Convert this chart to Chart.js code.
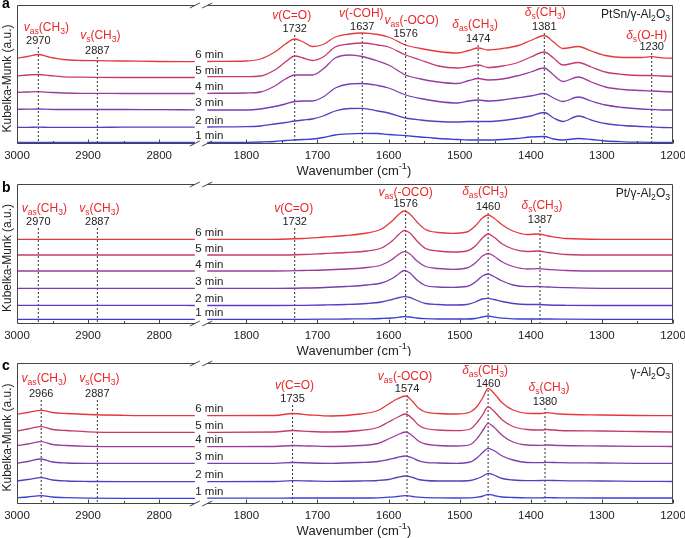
<!DOCTYPE html>
<html><head><meta charset="utf-8">
<script src="https://cdn.jsdelivr.net/npm/chart.js@4.4.0/dist/chart.umd.min.js"></script>
<style>
html,body{margin:0;padding:0;background:#fff;}
#wrap{position:relative;width:685px;height:538px;overflow:hidden;}
canvas{position:absolute;left:0;}
</style></head><body>
<div id="wrap">
<canvas id="ca" width="685" height="178" style="top:0px"></canvas>
<canvas id="cb" width="685" height="178" style="top:178px"></canvas>
<canvas id="cc" width="685" height="182" style="top:356px"></canvas>
</div>
<script>
// ---------- shared ----------
const timeLabels = ['1 min','2 min','3 min','4 min','5 min','6 min'];
const majorWn = [3000, 2900, 2800, 1800, 1700, 1600, 1500, 1400, 1300, 1200];
const minorWn = [2950, 2850, 1750, 1650, 1550, 1450, 1350, 1250];

// ---------- panel a : PtSn/γ-Al2O3 ----------
const aLeftWn = [3000, 2985, 2970, 2955, 2935, 2910, 2887, 2850, 2800, 2750];
const aRightWn = [1855, 1800, 1780, 1760, 1745, 1732, 1720, 1707, 1692, 1675, 1655, 1637, 1615, 1600, 1576, 1555, 1530, 1503, 1487, 1474, 1460, 1440, 1420, 1400, 1381, 1368, 1355, 1333, 1315, 1295, 1270, 1245, 1230, 1215, 1200];
const aLeft1 = [1.5, 1.5, 1.6, 1.5, 1.5, 1.5, 1.5, 1.5, 1.5, 1.5];
const aLeft2 = [16.7, 16.7, 16.8, 16.7, 16.7, 16.7, 16.7, 16.8, 16.8, 16.8];
const aLeft3 = [34.7, 34.8, 35, 34.7, 34.5, 34.5, 34.5, 34.5, 34.3, 34.2];
const aLeft4 = [51.7, 52, 52.3, 51.7, 51, 50.7, 50.7, 50.5, 50.5, 50.5];
const aLeft5 = [68, 69, 69.5, 68.5, 67.2, 66.8, 66.6, 66.5, 66.5, 66.5];
const aLeft6 = [85.7, 87.5, 89.5, 87, 84.5, 83.5, 83.3, 83, 82.5, 82.3];
const aRight1 = [1.5, 1.7, 2, 2.5, 3.5, 4, 4.5, 5, 6.5, 9, 10.2, 10.7, 10.5, 9.5, 8.3, 7, 5.5, 4.5, 4, 4, 4, 4.5, 5.5, 7, 7.5, 5, 4, 5.5, 4.5, 3, 2.2, 1.8, 1.7, 1.7, 1.7];
const aRight2 = [17, 17.3, 18, 20, 21.5, 23, 24, 25, 28, 33, 35.5, 35.7, 33, 31, 26, 24, 22.5, 22, 22.5, 22.5, 22.5, 23.5, 25.5, 28, 31.5, 26, 22.5, 28, 24, 20.5, 18.5, 17.5, 17, 16.5, 16.3];
const aRight3 = [34, 34, 35, 37.5, 40, 42.5, 43, 43, 47, 56, 60, 60.5, 58.5, 56, 49, 45.5, 42.5, 41, 43, 44, 43, 44, 46, 48, 50.5, 46, 42.5, 47, 43, 39, 36.5, 35, 34.5, 34, 34];
const aRight4 = [50.7, 51, 52, 58, 65, 69, 69, 69, 75, 86, 89, 87.5, 83, 79, 69, 65, 62, 60.5, 63.5, 65.5, 64, 65, 68, 72, 76, 69, 62.5, 67, 62, 57, 54.5, 53.5, 53, 52.5, 52];
const aRight5 = [67.3, 67.3, 68, 74, 82, 88, 86, 83.5, 87, 97, 100, 101, 99, 97, 89, 84, 78, 76, 77.5, 79, 76.5, 78, 81, 87, 92, 86, 79, 81.5, 77, 72, 69.5, 68.5, 68.5, 68, 67.5];
const aRight6 = [82.5, 83, 85, 92, 100, 105, 102, 97.5, 99.5, 107, 110, 111, 109.5, 107, 99, 95.5, 92.5, 91, 93.5, 96, 94, 95.5, 98, 103.5, 108.5, 102, 95.5, 97.5, 93, 88.5, 86.5, 86.5, 87.3, 86.2, 85.7];
const aPeakWn = [2970, 2887, 1732, 1637, 1576, 1474, 1381, 1230];
const aPeakTop = [97, 87, 109, 111, 104, 99, 111, 91];
const aPeakLabel = ['*v*_as_(CH_3_)', '*v*_s_(CH_3_)', '*v*(C=O)', '*v*(-COH)', '*v*_as_(-OCO)', '*δ*_as_(CH_3_)', '*δ*_s_(CH_3_)', '*δ*_s_(O-H)'];

// ---------- panel b : Pt/γ-Al2O3 ----------
const bLeftWn = [3000, 2950, 2900, 2850, 2800, 2750];
const bRightWn = [1855, 1760, 1720, 1690, 1660, 1630, 1610, 1595, 1585, 1578, 1570, 1560, 1548, 1530, 1510, 1490, 1478, 1468, 1460, 1452, 1440, 1425, 1405, 1390, 1375, 1350, 1300, 1200];
const bLeft1 = [4.7, 4.7, 4.7, 4.7, 4.7, 4.7];
const bLeft2 = [18.7, 18.7, 18.7, 18.6, 18.6, 18.5];
const bLeft3 = [35.7, 35.7, 35.7, 35.7, 35.7, 35.7];
const bLeft4 = [53, 53, 53, 53, 53, 53];
const bLeft5 = [69, 69, 69, 69, 69, 69];
const bLeft6 = [84.7, 84.7, 84.7, 84.7, 84.7, 84.7];
const bRight1 = [4.7, 4.7, 4.7, 4.8, 5, 5.2, 5.5, 6, 6.8, 7.3, 7, 6, 5.3, 5, 5, 5, 5.5, 7, 8, 7, 5.8, 5.2, 5, 5, 5, 4.8, 4.7, 4.7];
const bRight2 = [18.5, 18.5, 18.7, 19, 19.5, 20.5, 22, 24.5, 26.5, 27.3, 26.5, 23.5, 20.5, 19.5, 19, 19.5, 22, 25, 25.7, 24.5, 22.5, 20.5, 19.5, 19.5, 19, 18.7, 18.5, 18.5];
const bRight3 = [35.7, 35.7, 36, 36.5, 37.5, 39, 41, 45.5, 50.5, 53.5, 51, 44, 38.5, 37, 36.7, 37.5, 42, 48, 50, 47.5, 43, 39, 37.3, 37.5, 37, 36.3, 35.7, 35.7];
const bRight4 = [53, 53, 53.5, 54, 55, 56.5, 59, 64.5, 70, 72.3, 70, 63, 57.5, 55.5, 54.7, 56, 61, 68, 70.7, 68, 62, 57.5, 55, 55.3, 54.5, 53.5, 53, 53];
const bRight5 = [69, 69, 69.5, 70.5, 71.5, 73, 76, 83, 90, 93.5, 91, 83, 75.5, 73, 72, 73, 78, 86, 90, 87, 80, 75, 72.5, 73, 71.5, 69.5, 69, 69];
const bRight6 = [84.7, 84.7, 85.5, 87, 88.5, 91, 95, 103, 110, 113, 110, 102, 94.5, 91.5, 90.7, 92, 98, 106, 109, 106, 99, 93, 89.5, 90, 88, 85.5, 84.7, 84.7];
const bPeakWn = [2970, 2887, 1732, 1576, 1460, 1387];
const bPeakTop = [96, 96, 96, 114, 111, 98];
const bPeakLabel = ['*v*_as_(CH_3_)', '*v*_s_(CH_3_)', '*v*(C=O)', '*v*_as_(-OCO)', '*δ*_as_(CH_3_)', '*δ*_s_(CH_3_)'];

// ---------- panel c : γ-Al2O3 ----------
const cLeftWn = [3000, 2985, 2966, 2950, 2930, 2900, 2850, 2800, 2750];
const cRightWn = [1855, 1760, 1735, 1710, 1680, 1640, 1615, 1600, 1588, 1576, 1566, 1558, 1548, 1530, 1505, 1485, 1475, 1467, 1460, 1452, 1440, 1425, 1405, 1385, 1378, 1360, 1300, 1250, 1200];
const cLeft1 = [6.3, 7, 8.3, 7, 6.3, 5.8, 5.7, 5.7, 5.7];
const cLeft2 = [23, 24.5, 26.3, 24, 23, 22.5, 22.3, 22.3, 22.3];
const cLeft3 = [40.7, 42.5, 45, 42, 41, 40.7, 40.7, 40.7, 40.7];
const cLeft4 = [58.3, 60, 62.3, 59.5, 58.5, 57.7, 57.3, 57.3, 57.3];
const cLeft5 = [73, 75, 77.3, 74.5, 73.5, 72.2, 71.7, 71.7, 71.7];
const cLeft6 = [89.7, 91.5, 93.7, 91.5, 90.5, 89.5, 88.7, 88.3, 88.3];
const cRight1 = [5.8, 5.8, 6, 6, 6, 6, 6.2, 6.8, 7.5, 8.3, 7.5, 6.8, 6.3, 6.1, 6, 6.1, 6.8, 8, 9.7, 8.5, 7, 6.5, 6.2, 6.2, 6.3, 6.2, 6, 6, 6];
const cRight2 = [22.3, 22.5, 23.3, 23, 22.7, 23, 23.5, 24.5, 26.5, 28, 26.5, 24.5, 23.5, 23, 23, 23.5, 25.5, 28, 30.7, 29, 25.5, 24, 23.3, 23.5, 23.7, 23.3, 23, 22.7, 22.5];
const cRight3 = [40.7, 40.7, 41.5, 41, 40.7, 41.5, 42.5, 44.5, 46.5, 48, 46, 43.3, 41.7, 41, 40.7, 42, 46.5, 52, 55.7, 53.5, 48, 44, 41.5, 41.3, 41.7, 41.3, 41, 40.7, 40.7];
const cRight4 = [57.3, 57.5, 58.5, 58, 57.5, 58.5, 60.5, 65, 69, 72, 68, 63, 60, 58.5, 58, 59.5, 66, 74, 80.7, 77, 68.5, 62, 59, 58.7, 59, 58.5, 58, 57.7, 57.5];
const cRight5 = [71.7, 72, 73.5, 72.5, 72, 73.5, 76.5, 82, 86.5, 90, 85, 79, 75.5, 74, 73.3, 75, 82, 90, 97.3, 93, 84, 77.5, 74.5, 74, 74.5, 73.5, 73, 72.5, 72];
const cRight6 = [88.3, 88.5, 90.5, 89, 88, 90, 93.5, 100, 105, 108, 102.5, 96, 92, 90.5, 90, 92, 98, 107, 115.7, 111, 101, 94, 90.7, 90.5, 91.3, 90, 89, 88.5, 88.3];
const cPeakWn = [2966, 2887, 1735, 1574, 1460, 1380];
const cPeakTop = [104, 104, 99, 109, 114, 96];
const cPeakLabel = ['*v*_as_(CH_3_)', '*v*_s_(CH_3_)', '*v*(C=O)', '*v*_as_(-OCO)', '*δ*_as_(CH_3_)', '*δ*_s_(CH_3_)'];

// ---------- styles / layout ----------
const FONT = '"Liberation Sans", Arial, Helvetica, sans-serif';
const seriesColors = ['#3d3fd4', '#5a3cc2', '#7a3cb0', '#9c3c9a', '#c43a6c', '#e4393b'];
const RED = '#e8282b', INK = '#222', FRAME = '#444';

// broken-axis mapping: wavenumber -> position on a continuous linear scale
const BREAK_HI = 2750, BREAK_LO = 1855, GAP = 17.5;
function uOf(w){ return w >= BREAK_HI ? 3000 - w : (3000 - BREAK_HI) + GAP + (BREAK_LO - w); }
function wOf(u){ return u <= 3000 - BREAK_HI ? 3000 - u : BREAK_LO - (u - (3000 - BREAK_HI) - GAP); }
const U_MAX = uOf(1200);

const panels = [
  {id:'ca', letter:'a', letterY:8, sample:'PtSn/γ-Al_2_O_3_', padTop:5, axisH:34, yMax:139,
   leftWn:aLeftWn, rightWn:aRightWn, left:[aLeft1,aLeft2,aLeft3,aLeft4,aLeft5,aLeft6], right:[aRight1,aRight2,aRight3,aRight4,aRight5,aRight6],
   peakWn:aPeakWn, peakTop:aPeakTop, peakLabel:aPeakLabel, redDx:[8,3,-3,-1,6,-3,1,-5], redDy:[13,15,13,13,13,14,14,11]},
  {id:'cb', letter:'b', letterY:14, sample:'Pt/γ-Al_2_O_3_', padTop:6, axisH:32, yMax:140,
   leftWn:bLeftWn, rightWn:bRightWn, left:[bLeft1,bLeft2,bLeft3,bLeft4,bLeft5,bLeft6], right:[bRight1,bRight2,bRight3,bRight4,bRight5,bRight6],
   peakWn:bPeakWn, peakTop:bPeakTop, peakLabel:bPeakLabel, redDx:[6,2,-1,0,-3,2], redDy:[13,13,13,11,15,14]},
  {id:'cc', letter:'c', letterY:14, sample:'γ-Al_2_O_3_', padTop:7, axisH:34, yMax:141,
   leftWn:cLeftWn, rightWn:cRightWn, left:[cLeft1,cLeft2,cLeft3,cLeft4,cLeft5,cLeft6], right:[cRight1,cRight2,cRight3,cRight4,cRight5,cRight6],
   peakWn:cPeakWn, peakTop:cPeakTop, peakLabel:cPeakLabel, redDx:[3,2,2,-2,-3,4], redDy:[15,15,13,12,13,14]}
];

function drawRich(ctx, spec, x, y, align, size, color, weight){
  const toks = spec.split(/(\*[^*]+\*|_[^_]+_|\^[^^]+\^)/).filter(t => t);
  const w0 = weight ? weight + ' ' : '';
  const segs = toks.map(t => {
    if (t[0] === '*') return {t:t.slice(1,-1), f:'italic ' + w0 + size + 'px ' + FONT, dy:0};
    if (t[0] === '_') return {t:t.slice(1,-1), f:w0 + (size*0.72).toFixed(1) + 'px ' + FONT, dy:size*0.32};
    if (t[0] === '^') return {t:t.slice(1,-1), f:w0 + (size*0.72).toFixed(1) + 'px ' + FONT, dy:-size*0.32};
    return {t:t, f:w0 + size + 'px ' + FONT, dy:0};
  });
  let total = 0;
  segs.forEach(s => { ctx.font = s.f; s.w = ctx.measureText(s.t).width; total += s.w; });
  let cx = align === 'center' ? x - total/2 : align === 'right' ? x - total : x;
  ctx.fillStyle = color; ctx.textBaseline = 'middle'; ctx.textAlign = 'left';
  segs.forEach(s => { ctx.font = s.f; ctx.fillText(s.t, cx, y + s.dy); cx += s.w; });
}

function decor(p){
  return {
    id:'decor_' + p.letter,
    afterDatasetsDraw(chart){
      const {ctx, chartArea:ca, scales} = chart;
      const xs = scales.x, ys = scales.y;
      ctx.save();
      // frame with break
      const L = Math.round(ca.left) + 0.5, R = Math.round(ca.right) - 0.5;
      const T = Math.round(ca.top) + 0.5, B = Math.round(ca.bottom) - 0.5;
      const b1 = xs.getPixelForValue(3000 - BREAK_HI), b2 = xs.getPixelForValue(3000 - BREAK_HI + GAP);
      ctx.strokeStyle = FRAME; ctx.lineWidth = 1; ctx.setLineDash([]);
      ctx.beginPath();
      ctx.moveTo(b1, T); ctx.lineTo(L, T); ctx.lineTo(L, B); ctx.lineTo(b1, B);
      ctx.moveTo(b2, T); ctx.lineTo(R, T); ctx.lineTo(R, B); ctx.lineTo(b2, B);
      [b1, b2].forEach(bx => [T, B].forEach(by => { ctx.moveTo(bx - 5, by + 2.5); ctx.lineTo(bx + 5, by - 2.5); }));
      majorWn.forEach(w => { const px = Math.round(xs.getPixelForValue(uOf(w))) + 0.5; ctx.moveTo(px, B); ctx.lineTo(px, B - 4); });
      minorWn.forEach(w => { const px = Math.round(xs.getPixelForValue(uOf(w))) + 0.5; ctx.moveTo(px, B); ctx.lineTo(px, B - 2.5); });
      ctx.stroke();
      // time labels
      p.left.forEach((arr, i) => {
        const yy = ys.getPixelForValue(arr[arr.length - 1]) - 6.5;
        drawRich(ctx, timeLabels[i], b1 + 0.5, yy, 'left', 11.5, INK);
      });
      // peak annotations
      p.peakWn.forEach((w, i) => {
        const px = xs.getPixelForValue(uOf(w));
        const top = ys.getPixelForValue(p.peakTop[i]);
        const ny = top - 6.5;
        drawRich(ctx, String(w), px, ny, 'center', 11, INK);
        drawRich(ctx, p.peakLabel[i], px + p.redDx[i], ny - p.redDy[i], 'center', 12, RED);
      });
      // sample name
      drawRich(ctx, p.sample, ca.right - 3, ca.top + 9.5, 'right', 12, INK);
      // panel letter
      ctx.font = 'bold 14px ' + FONT; ctx.fillStyle = '#000'; ctx.textAlign = 'left'; ctx.textBaseline = 'alphabetic';
      ctx.fillText(p.letter, 2, p.letterY);
      // axis titles
      drawRich(ctx, 'Wavenumber (cm^-1^)', (ca.left + ca.right)/2 + 9, ca.bottom + 27, 'center', 13, INK);
      ctx.translate(8, (ca.top + ca.bottom)/2 + 4);
      ctx.rotate(-Math.PI/2);
      drawRich(ctx, 'Kubelka-Munk (a.u.)', 0, 0, 'center', 12, INK);
      ctx.restore();
    }
  };
}

panels.forEach(p => {
  const datasets = [];
  p.left.forEach((arr, i) => {
    const pts = p.leftWn.map((w, j) => ({x:uOf(w), y:arr[j]}))
      .concat([{x:3000 - BREAK_HI + GAP/2, y:null}])
      .concat(p.rightWn.map((w, j) => ({x:uOf(w), y:p.right[i][j]})));
    datasets.push({label:timeLabels[i], data:pts, borderColor:seriesColors[i], borderWidth:1.3,
      pointRadius:0, cubicInterpolationMode:'monotone', spanGaps:false, fill:false});
  });
  p.peakWn.forEach((w, i) => {
    datasets.push({label:'peak ' + w, data:[{x:uOf(w), y:p.peakTop[i]}, {x:uOf(w), y:0}],
      borderColor:'#333', borderWidth:1, borderDash:[2,2], pointRadius:0, fill:false});
  });
  new Chart(document.getElementById(p.id), {
    type:'line',
    data:{datasets},
    options:{
      responsive:false, animation:false, devicePixelRatio:1,
      layout:{padding:{top:p.padTop, left:17, right:12, bottom:0}},
      plugins:{legend:{display:false}, tooltip:{enabled:false}},
      scales:{
        x:{type:'linear', min:0, max:U_MAX,
           grid:{display:false, drawTicks:false}, border:{display:false},
           afterBuildTicks:s => { s.ticks = majorWn.map(w => ({value:uOf(w)})); },
           afterFit:s => { s.height = p.axisH; s.paddingLeft = 0; s.paddingRight = 0; },
           ticks:{autoSkip:false, maxRotation:0, padding:5, color:INK, font:{family:FONT, size:11.5},
                  callback:v => String(Math.round(wOf(v)))}},
        y:{display:false, min:0, max:p.yMax}
      }
    },
    plugins:[decor(p)]
  });
});
</script>
</body></html>
